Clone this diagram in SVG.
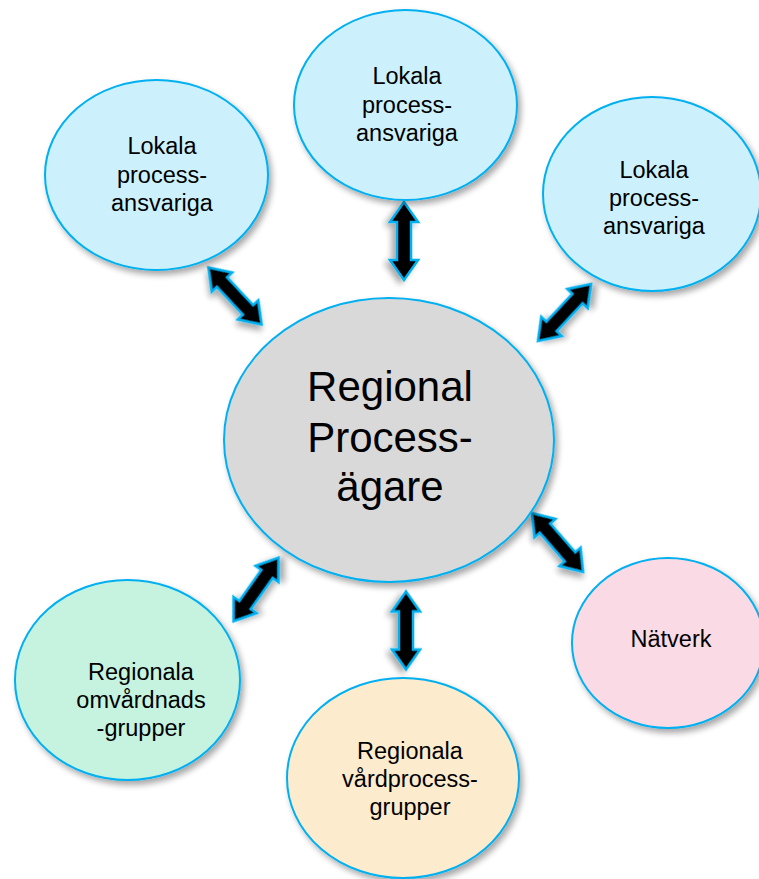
<svg xmlns="http://www.w3.org/2000/svg" width="759" height="879" viewBox="0 0 759 879">
<defs>
<filter id="sh" x="-20%" y="-20%" width="150%" height="150%">
<feGaussianBlur in="SourceAlpha" stdDeviation="3"/>
<feOffset dx="3" dy="4" result="b"/>
<feComponentTransfer><feFuncA type="linear" slope="0.35"/></feComponentTransfer>
<feMerge><feMergeNode/><feMergeNode in="SourceGraphic"/></feMerge>
</filter>
<path id="arr" d="M-39,0 L-19,-14 L-19,-7 L19,-7 L19,-14 L39,0 L19,14 L19,7 L-19,7 L-19,14 Z"/>
</defs>
<style>
.n{stroke:#00b0f0;stroke-width:2;filter:url(#sh)}
.t{font-family:"Liberation Sans",Arial,sans-serif;font-size:23.5px;fill:#000;text-anchor:middle}
.big{font-size:42px}
.a{fill:#000;stroke:#00b0f0;stroke-width:2.5;stroke-linejoin:miter;filter:url(#sh)}
</style>
<rect width="759" height="879" fill="#ffffff"/>
<g id="connectors">
<use href="#arr" class="a" transform="translate(235,296) rotate(47)"/>
<use href="#arr" class="a" transform="translate(404,241) rotate(90)"/>
<use href="#arr" class="a" transform="translate(564.5,312.5) rotate(-47)"/>
<use href="#arr" class="a" transform="translate(557.5,542.5) rotate(49)"/>
<use href="#arr" class="a" transform="translate(256,589.5) rotate(-54.7)"/>
<use href="#arr" class="a" transform="translate(406,630.5) rotate(90)"/>
</g>
<g id="center">
<ellipse class="n" cx="389" cy="440" rx="165" ry="142" fill="#d9d9d9"/>
<text class="t big" x="390" y="401">Regional</text>
<text class="t big" x="390" y="452">Process-</text>
<text class="t big" x="390" y="501">ägare</text>
</g>
<g id="lokala-left">
<ellipse class="n" cx="156.5" cy="175" rx="111.5" ry="95" fill="#cdf1fc"/>
<text class="t" x="162" y="154">Lokala</text>
<text class="t" x="162" y="183">process-</text>
<text class="t" x="162" y="211">ansvariga</text>
</g>
<g id="lokala-top">
<ellipse class="n" cx="405.5" cy="105" rx="111.5" ry="95" fill="#cdf1fc"/>
<text class="t" x="407" y="84">Lokala</text>
<text class="t" x="407" y="113">process-</text>
<text class="t" x="407" y="141">ansvariga</text>
</g>
<g id="lokala-right">
<ellipse class="n" cx="652" cy="194" rx="109" ry="97" fill="#cdf1fc"/>
<text class="t" x="654" y="178">Lokala</text>
<text class="t" x="654" y="206">process-</text>
<text class="t" x="654" y="234">ansvariga</text>
</g>
<g id="natverk">
<ellipse class="n" cx="668" cy="643" rx="96" ry="85" fill="#fadbe5"/>
<text class="t" x="671" y="647">Nätverk</text>
</g>
<g id="omvardnad">
<ellipse class="n" cx="127.5" cy="680" rx="112.5" ry="100" fill="#c5f3df"/>
<text class="t" x="141" y="680">Regionala</text>
<text class="t" x="141" y="708">omvårdnads</text>
<text class="t" x="141" y="736">-grupper</text>
</g>
<g id="vardprocess">
<ellipse class="n" cx="403" cy="778" rx="116" ry="100" fill="#fdebcd"/>
<text class="t" x="410" y="759">Regionala</text>
<text class="t" x="410" y="787">vårdprocess-</text>
<text class="t" x="410" y="815">grupper</text>
</g>
</svg>
